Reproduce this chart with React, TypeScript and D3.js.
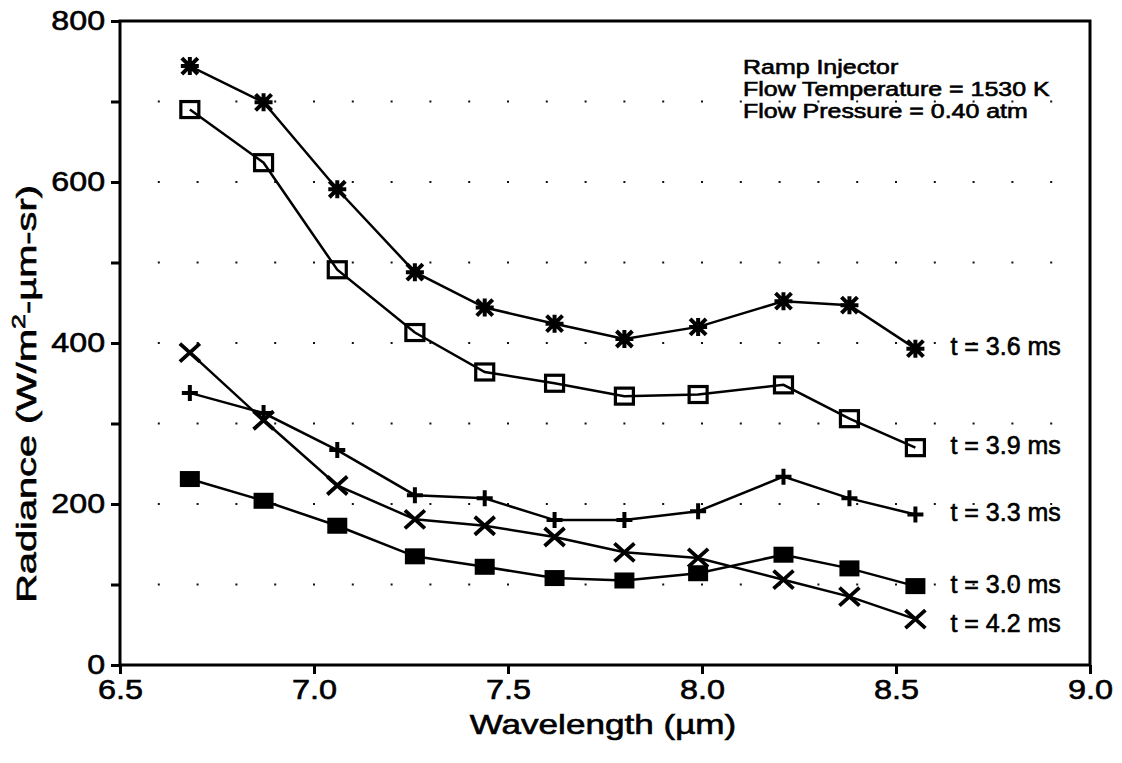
import React, { useRef, useEffect } from 'react';
import * as d3 from 'd3';

// wavelength (um) of each measured point
const wavelengths = [6.68, 6.87, 7.06, 7.26, 7.44, 7.62, 7.8, 7.99, 8.21, 8.38, 8.55];

// radiance per time step (W/m2-um-sr)
const t36 = [744, 699, 591, 488, 444, 424, 405, 420, 452, 447, 393];
const t39 = [690, 624, 491, 413, 364, 350, 334, 336, 348, 306, 270];
const t33 = [338, 313, 267, 211, 207, 180, 180, 191, 234, 207, 187];
const t30 = [231, 204, 173, 135, 122, 108, 105, 114, 137, 120, 98];
const t42 = [388, 304, 223, 181, 173, 159, 140, 133, 106, 85, 57];

const seriesLabels = ['t = 3.6 ms', 't = 3.9 ms', 't = 3.3 ms', 't = 3.0 ms', 't = 4.2 ms'];
const seriesMarkers = ['star', 'openSquare', 'plus', 'filledSquare', 'cross'];

const xTicks = [6.5, 7.0, 7.5, 8.0, 8.5, 9.0];
const yTicks = [0, 200, 400, 600, 800];

const noteLines = ['Ramp Injector', 'Flow Temperature = 1530 K', 'Flow Pressure = 0.40 atm'];

const FONT = '"Liberation Sans", Arial, Helvetica, sans-serif';

const App = () => {
    const svgRef = useRef(null);
    const width = 1122;
    const height = 763;

    useEffect(() => {
        const svg = d3.select(svgRef.current);
        svg.selectAll('*').remove();

        const margin = { top: 21, right: 32, bottom: 98, left: 120 };
        const x = d3.scaleLinear().domain([6.5, 9.0]).range([margin.left, width - margin.right]);
        const y = d3.scaleLinear().domain([0, 800]).range([height - margin.bottom, margin.top]);

        svg.append('rect').attr('width', width).attr('height', height).attr('fill', '#fff');

        // scanned text looks wide and a bit heavy
        const heavy = (sel) => sel.attr('stroke', '#000').attr('stroke-width', 0.6).attr('fill', '#000');

        // dotted grid: a dot every 0.1 um and every 100 units
        const gx = d3.range(6.6, 8.95, 0.1);
        const gy = d3.range(100, 800, 100);
        const dots = svg.append('g').attr('fill', '#111');
        gy.forEach((v) => {
            gx.forEach((w) => {
                dots.append('rect')
                    .attr('x', x(w) - 1)
                    .attr('y', y(v) - 1)
                    .attr('width', 2)
                    .attr('height', 2);
            });
        });

        // frame
        svg.append('rect')
            .attr('x', x(6.5))
            .attr('y', y(800))
            .attr('width', x(9.0) - x(6.5))
            .attr('height', y(0) - y(800))
            .attr('fill', 'none')
            .attr('stroke', '#000')
            .attr('stroke-width', 3);

        // axes
        const xAxis = svg.append('g')
            .attr('transform', `translate(0, ${y(0)})`)
            .call(d3.axisBottom(x).tickValues(xTicks).tickFormat(d3.format('.1f')).tickSize(9).tickPadding(6));
        xAxis.select('.domain').remove();
        xAxis.selectAll('line').attr('stroke-width', 3);
        xAxis.selectAll('text')
            .attr('font-family', FONT)
            .attr('font-size', 27)
            .attr('transform', 'scale(1.2,1)')
            .call(heavy);

        const yAxis = svg.append('g')
            .attr('transform', `translate(${x(6.5)}, 0)`)
            .call(d3.axisLeft(y).tickValues(d3.range(0, 801, 100)).tickSize(9).tickPadding(4)
                .tickFormat((d) => (yTicks.includes(d) ? String(d) : '')));
        yAxis.select('.domain').remove();
        yAxis.selectAll('line').attr('stroke-width', 3);
        yAxis.selectAll('text')
            .attr('font-family', FONT)
            .attr('font-size', 28)
            .attr('transform', 'scale(1.15,1)')
            .call(heavy);

        // axis titles
        svg.append('text')
            .attr('transform', `translate(${(x(6.5) + x(9.0)) / 2 - 2}, 734) scale(1.3,1)`)
            .attr('text-anchor', 'middle')
            .attr('font-family', FONT)
            .attr('font-size', 27)
            .text('Wavelength (\u00b5m)')
            .call(heavy);

        const yt = svg.append('text')
            .attr('transform', `translate(36, 394) rotate(-90) scale(1.42,1)`)
            .attr('text-anchor', 'middle')
            .attr('font-family', FONT)
            .attr('font-size', 28)
            .call(heavy);
        yt.append('tspan').text('Radiance (W/m');
        yt.append('tspan').attr('font-size', 19).attr('dy', -11).text('2');
        yt.append('tspan').attr('dy', 11).text('-\u00b5m-sr)');

        // series
        const all = [t36, t39, t33, t30, t42];
        const line = d3.line().x((d) => x(d[0])).y((d) => y(d[1]));

        all.forEach((vals, i) => {
            const pts = wavelengths.map((w, j) => [w, vals[j]]);
            svg.append('path')
                .attr('d', line(pts))
                .attr('fill', 'none')
                .attr('stroke', '#000')
                .attr('stroke-width', 2.5);

            const g = svg.append('g');
            pts.forEach(([w, v]) => {
                const cx = x(w);
                const cy = y(v);
                const kind = seriesMarkers[i];
                if (kind === 'star') {
                    g.append('path')
                        .attr('d', `M${cx - 9},${cy}L${cx + 9},${cy}M${cx},${cy - 9}L${cx},${cy + 9}M${cx - 8},${cy - 8}L${cx + 8},${cy + 8}M${cx - 8},${cy + 8}L${cx + 8},${cy - 8}`)
                        .attr('stroke', '#000').attr('stroke-width', 4);
                    g.append('circle').attr('cx', cx).attr('cy', cy).attr('r', 5).attr('fill', '#000');
                } else if (kind === 'openSquare') {
                    g.append('rect')
                        .attr('x', cx - 9).attr('y', cy - 8).attr('width', 18).attr('height', 16)
                        .attr('fill', 'none').attr('stroke', '#000').attr('stroke-width', 3.2);
                } else if (kind === 'plus') {
                    g.append('path')
                        .attr('d', `M${cx - 8},${cy}L${cx + 8},${cy}M${cx},${cy - 8}L${cx},${cy + 8}`)
                        .attr('stroke', '#000').attr('stroke-width', 4);
                } else if (kind === 'filledSquare') {
                    g.append('rect')
                        .attr('x', cx - 10).attr('y', cy - 8).attr('width', 20).attr('height', 16)
                        .attr('fill', '#000');
                } else {
                    g.append('path')
                        .attr('d', `M${cx - 10},${cy - 9}L${cx + 10},${cy + 9}M${cx - 10},${cy + 9}L${cx + 10},${cy - 9}`)
                        .attr('stroke', '#000').attr('stroke-width', 3.8);
                }
            });

            // series label next to last point
            const last = vals[vals.length - 1];
            const dy = i === 4 ? 4 : -2;
            svg.append('text')
                .attr('x', x(wavelengths[wavelengths.length - 1]) + 35)
                .attr('y', y(last) + dy)
                .attr('dy', '0.35em')
                .attr('font-family', FONT)
                .attr('font-size', 25)
                .text(seriesLabels[i])
                .call(heavy);
        });

        // annotation
        noteLines.forEach((t, i) => {
            svg.append('text')
                .attr('transform', `translate(743, ${74 + i * 22}) scale(1.28,1)`)
                .attr('font-family', FONT)
                .attr('font-size', 19.5)
                .text(t)
                .call(heavy);
        });
    }, []);

    return (
        <svg
            ref={svgRef}
            width={width}
            height={height}
            style={{ position: 'absolute', left: 0, top: 0, display: 'block' }}
        ></svg>
    );
};

export default App;
